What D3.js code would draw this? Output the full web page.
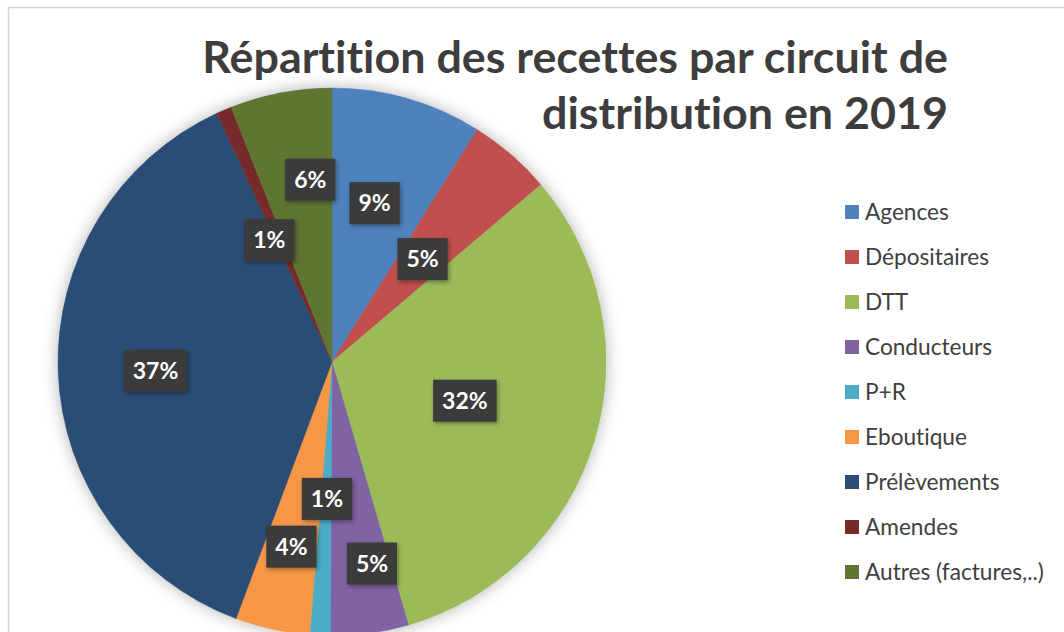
<!DOCTYPE html>
<html>
<head>
<meta charset="utf-8">
<script src="https://cdn.jsdelivr.net/npm/d3@7"></script>
<style>
  html, body { margin: 0; padding: 0; background: #fff; }
  svg { display: block; }
  text { font-variant-ligatures: none; font-feature-settings: "liga" 0, "clig" 0; }
</style>
</head>
<body>
<svg id="chart" width="1064" height="632"></svg>
<script>
// ---- data ----
const categories = ["Agences", "Dépositaires", "DTT", "Conducteurs", "P+R", "Eboutique", "Prélèvements", "Amendes", "Autres (factures,..)"];
const shares = [8.9, 4.9, 31.7, 4.6, 1.2, 4.4, 37.4, 0.9, 6.0];
const sliceColors = ["#4F81BD", "#C0504D", "#9BBB59", "#8064A2", "#4BACC6", "#F79646", "#2C4D75", "#772C2A", "#5F7530"];
const titleLines = ["Répartition des recettes par circuit de", "distribution en 2019"];

// ---- layout ----
const W = 1064, H = 632;
const cx = 332, cy = 362, R = 274;
// label placement (radius fraction, angular nudge in degrees) per slice, Excel "best fit" look
const labelPlacement = [[0.60, -1], [0.50, 0.5], [0.505, -0.5], [0.75, -3.3], [0.50, -0.4], [0.69, -0.2], [0.645, -0.7], [0.50, -4], [0.67, 4]];

const svg = d3.select("#chart");
const defs = svg.append("defs");
const f1 = defs.append("filter").attr("id", "pieShadow").attr("x", "-20%").attr("y", "-20%").attr("width", "140%").attr("height", "140%");
f1.append("feDropShadow").attr("dx", 0).attr("dy", 0).attr("stdDeviation", 8).attr("flood-color", "#000").attr("flood-opacity", 0.3);
const f2 = defs.append("filter").attr("id", "boxShadow").attr("x", "-30%").attr("y", "-30%").attr("width", "160%").attr("height", "160%");
f2.append("feDropShadow").attr("dx", 1.5).attr("dy", 2).attr("stdDeviation", 2).attr("flood-color", "#000").attr("flood-opacity", 0.35);

// frame
svg.append("rect").attr("x", 0).attr("y", 0).attr("width", W).attr("height", H).attr("fill", "#fff");
svg.append("rect").attr("x", 8.5).attr("y", 7.5).attr("width", W + 20).attr("height", H + 20)
  .attr("fill", "#fff").attr("stroke", "#d4d4d4").attr("stroke-width", 1.5);

// title
const titleG = svg.append("g");
const tFont = "Lato, 'Open Sans', sans-serif";
const t1 = titleG.append("text").attr("x", 948).attr("y", 73).attr("text-anchor", "end")
  .attr("font-family", tFont).attr("font-weight", 700).attr("font-size", 40).attr("fill", "#3d3d3d").text(titleLines[0]);
const w1 = t1.node().getComputedTextLength();
const titleSize = 40 * 746 / w1;
t1.attr("font-size", titleSize);
titleG.append("text").attr("x", 948).attr("y", 129).attr("text-anchor", "end")
  .attr("font-family", tFont).attr("font-weight", 700).attr("font-size", titleSize).attr("fill", "#3d3d3d").text(titleLines[1]);

// pie
const pie = d3.pie().sort(null).value(d => d).startAngle(0).endAngle(2 * Math.PI);
const arcs = pie(shares);
const arc = d3.arc().innerRadius(0).outerRadius(R);
const color = d3.scaleOrdinal().domain(categories).range(sliceColors);

const pieG = svg.append("g").attr("transform", `translate(${cx},${cy})`);
pieG.append("g").attr("filter", "url(#pieShadow)")
  .selectAll("path").data(arcs).join("path")
  .attr("d", arc)
  .attr("fill", (d, i) => color(categories[i]))
  .attr("stroke", (d, i) => color(categories[i]))
  .attr("stroke-width", 0.5);

// labels
const fmt = d3.format(".0f");
const labelG = pieG.append("g");
arcs.forEach((d, i) => {
  const [rf, dDeg] = labelPlacement[i];
  const a = (d.startAngle + d.endAngle) / 2 + dDeg * Math.PI / 180;
  const r = rf * R;
  const x = r * Math.sin(a), y = -r * Math.cos(a);
  const g = labelG.append("g").attr("transform", `translate(${x},${y})`);
  const rect = g.append("rect").attr("fill", "#3a3a3a").attr("filter", "url(#boxShadow)");
  const txt = g.append("text").attr("text-anchor", "middle").attr("dy", "0.36em")
    .attr("font-family", tFont).attr("font-weight", 700).attr("font-size", 23)
    .attr("fill", "#fff").text(fmt(d.value) + "%");
  const tw = txt.node().getComputedTextLength();
  const bw = tw + 18, bh = 42;
  rect.attr("x", -bw / 2).attr("y", -bh / 2).attr("width", bw).attr("height", bh);
});

// legend
const legend = svg.append("g").attr("transform", "translate(845,212)");
const rows = legend.selectAll("g").data(categories).join("g")
  .attr("transform", (d, i) => `translate(0,${i * 45})`);
rows.append("rect").attr("x", 0).attr("y", -7).attr("width", 14).attr("height", 14)
  .attr("fill", d => color(d));
const legTexts = rows.append("text").attr("x", 20).attr("dy", "0.36em")
  .attr("font-family", tFont).attr("font-size", 20).attr("fill", "#404040").text(d => d);
const lastW = legTexts.nodes()[categories.length - 1].getComputedTextLength();
legTexts.attr("font-size", 20 * 179 / lastW);
</script>
</body>
</html>
